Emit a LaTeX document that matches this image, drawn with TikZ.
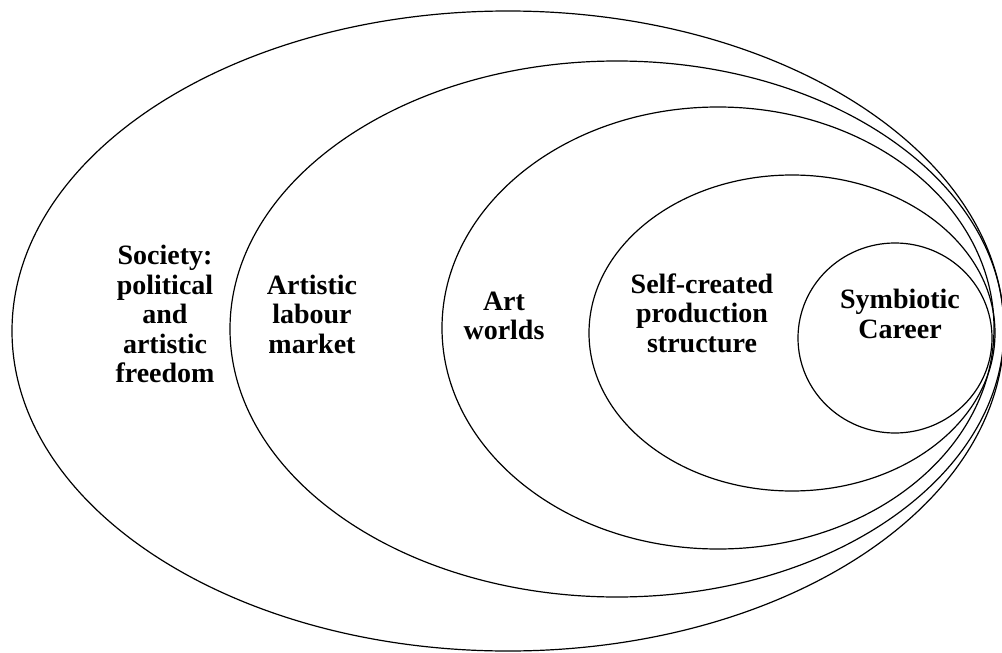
\documentclass[tikz,border=0pt]{standalone}
\usepackage{fontspec}
\setmainfont{Liberation Serif}
\usepackage{tikz}
\usetikzlibrary{positioning}

\tikzset{
  ring/.style={draw=black,line width=1.2pt},
  lab/.style={align=center,font=\bfseries\fontsize{28}{29.5}\selectfont}
}

\begin{document}
\begin{tikzpicture}[x=1pt,y=-1pt]
  \useasboundingbox (0,0) rectangle (1002,653);
  % nested spheres, bunched up on the right
  \foreach \cx/\cy/\rx/\ry in {508/331/496/320,617/329/387/268,718/328/276/221,792/333/203/158,895/338/97/95}{
    \draw[ring] (\cx,\cy) ellipse [x radius=\rx pt,y radius=\ry pt];
  }
  \node[lab] (society) at (165,314) {Society:\\political\\and\\artistic\\freedom};
  \node[lab] (market) at (312,314) {Artistic\\labour\\market};
  \node[lab] (artworlds) at (504,316) {Art\\worlds};
  \node[lab] (selfmade) at (702,313) {Self-created\\production\\structure};
  \node[lab] (career) at (900,314) {Symbiotic\\Career};
\end{tikzpicture}
\end{document}
